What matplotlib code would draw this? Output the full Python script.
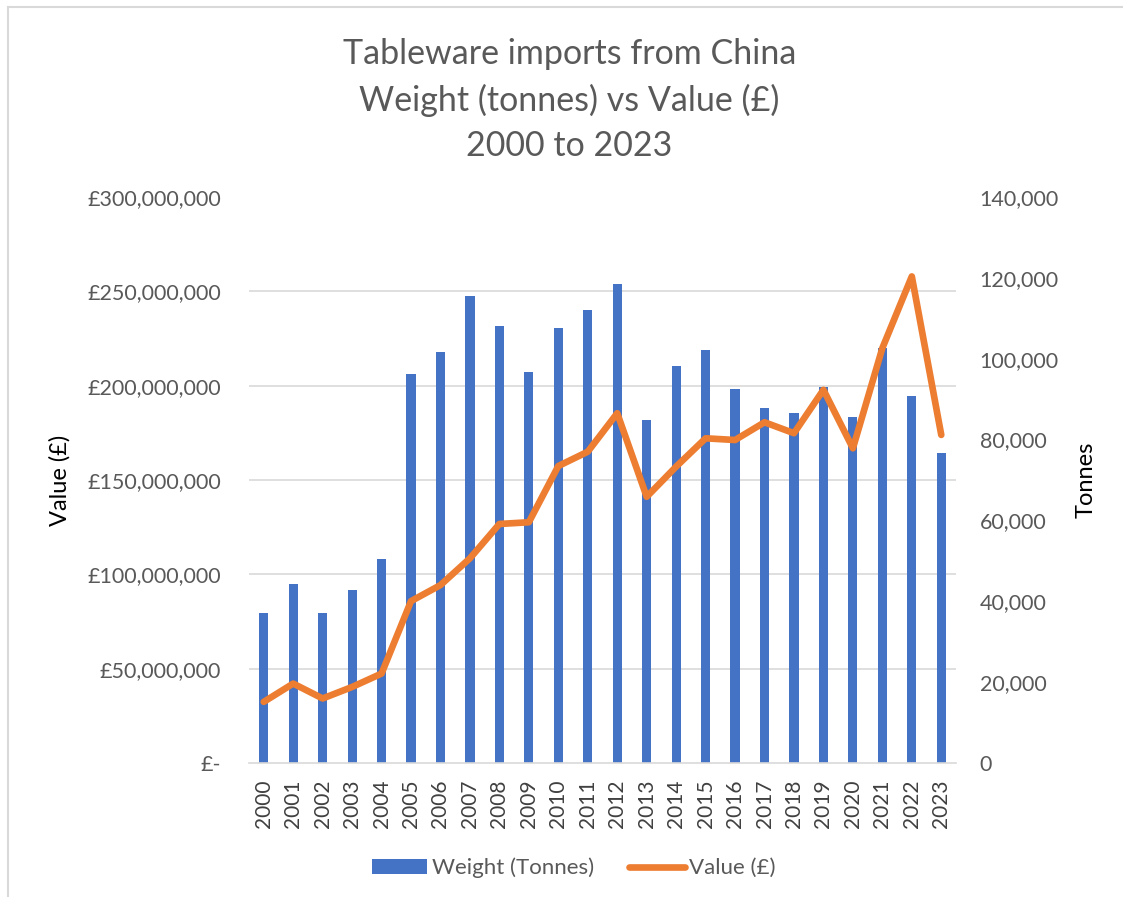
import matplotlib.pyplot as plt
from matplotlib.lines import Line2D
from matplotlib.ticker import FuncFormatter, MultipleLocator, NullFormatter

years = [str(y) for y in range(2000, 2024)]
weight_tonnes = [37100, 44300, 37100, 42800, 50400, 96200, 101600, 115400,
                 108000, 96600, 107700, 112100, 118500, 84900, 98200, 102200,
                 92400, 87800, 86600, 92900, 85600, 102600, 90900, 76600]
value_gbp = [32.4, 42.1, 34.2, 40.3, 47.4, 85.8, 94.3, 108.5, 126.7, 127.6,
             157.4, 165.0, 185.4, 141.1, 157.1, 172.1, 171.2, 180.6, 174.8,
             197.8, 166.8, 219.9, 257.9, 173.9]
value_gbp = [v * 1e6 for v in value_gbp]

blue = '#4472C4'
orange = '#ED7D31'
grey_text = '#595959'

plt.rcParams['font.family'] = ['Lato', 'DejaVu Sans']

fig = plt.figure(figsize=(11.23, 8.97), dpi=100)
ax = fig.add_axes([249 / 1123, 1 - 763 / 897, (956 - 249) / 1123, (763 - 197) / 897])
ax2 = ax.twinx()

x = range(len(years))
ax2.bar(x, weight_tonnes, width=0.31, color=blue, label='Weight (Tonnes)', zorder=2)
ax.plot(x, value_gbp, color=orange, linewidth=4.8, solid_capstyle='round',
        solid_joinstyle='round', label='Value (£)', zorder=3)

# line on top of bars
ax.set_zorder(ax2.get_zorder() + 1)
ax.patch.set_visible(False)

ax.set_ylim(0, 300e6)
ax2.set_ylim(0, 140000)
ax.set_xlim(-0.5, len(years) - 0.5)
ax.yaxis.set_major_locator(MultipleLocator(50e6))
ax2.yaxis.set_major_locator(MultipleLocator(20000))
# gridlines follow the left (value) axis, drawn behind the bars
ax2.yaxis.set_minor_locator(MultipleLocator(140000 / 6))
ax2.yaxis.set_minor_formatter(NullFormatter())


def pounds(v, pos):
    if v == 0:
        return '£-'
    return f'£{v:,.0f}'


ax.yaxis.set_major_formatter(FuncFormatter(pounds))
ax2.yaxis.set_major_formatter(FuncFormatter(lambda v, p: f'{v:,.0f}'))

ax2.grid(axis='y', which='minor', color='#D9D9D9', linewidth=1.2, zorder=0)
ax2.grid(axis='y', which='major', visible=False)
ax2.set_axisbelow(True)

for a in (ax, ax2):
    for s in a.spines.values():
        s.set_visible(False)
ax2.spines['bottom'].set_visible(True)
ax2.spines['bottom'].set_color('#D9D9D9')
ax2.spines['bottom'].set_linewidth(1.2)

ax.set_xticks(list(x))
ax.set_xticklabels(years, rotation=90, fontsize=15, color='#404040')
ax.tick_params(axis='x', length=0, pad=12)
ax.tick_params(axis='y', length=0, labelsize=15.5, labelcolor=grey_text, pad=20)
ax2.tick_params(axis='y', which='both', length=0, labelsize=15.5,
                labelcolor=grey_text, pad=17)

ax.set_ylabel('Value (£)', fontsize=17, color='black', labelpad=12)
ax2.set_ylabel('Tonnes', fontsize=17, color='black', labelpad=12)

fig.text(0.507, 1 - 38 / 897, 'Tableware imports from China\nWeight (tonnes) vs Value (£)\n2000 to 2023',
         ha='center', va='top', fontsize=24.5, color=grey_text, linespacing=1.5)

handles = [ax2.patches[0], ax.lines[0]]
fig.legend(handles, ['Weight (Tonnes)', 'Value (£)'], loc='center',
           bbox_to_anchor=(0.511, 1 - 868 / 897), ncol=2, frameon=False,
           fontsize=16, labelcolor=grey_text, handlelength=2.5,
           handletextpad=0.2, columnspacing=1.6)

# outer chart border (top and left visible)
fig.add_artist(Line2D([8 / 1123, 8 / 1123], [0, 1 - 7 / 897], transform=fig.transFigure,
                      color='#D9D9D9', linewidth=1.5))
fig.add_artist(Line2D([8 / 1123, 1], [1 - 7 / 897, 1 - 7 / 897], transform=fig.transFigure,
                      color='#D9D9D9', linewidth=1.5))

fig.savefig('out.png', dpi=100)
